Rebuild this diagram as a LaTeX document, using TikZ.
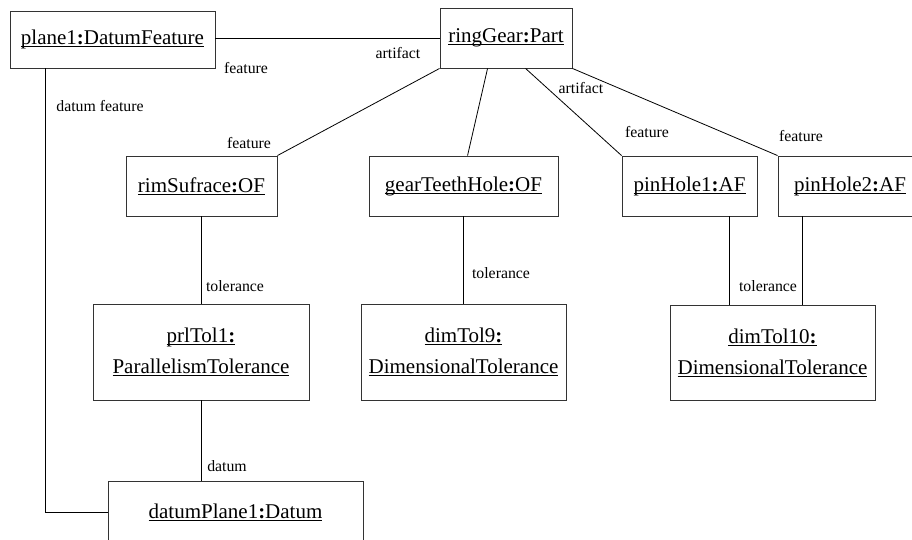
\documentclass[tikz,border=0pt]{standalone}
\usepackage{fontspec}
\setmainfont{Liberation Serif}
\usetikzlibrary{calc}
\newsavebox\ulbox
\newcommand\myul[1]{\sbox\ulbox{#1}\rlap{\rule[-2.4pt]{\wd\ulbox}{0.9pt}}\usebox\ulbox}
\tikzset{
  obj/.style={draw=black!80, line width=0.9pt, rectangle, inner sep=0pt, align=center,
    font=\fontsize{21}{31}\selectfont},
  conn/.style={draw=black, line width=0.8pt},
  lbl/.style={inner sep=0pt, font=\fontsize{15.8}{18}\selectfont}
}
\begin{document}
\begin{tikzpicture}[x=1pt,y=-1pt]
\useasboundingbox (0,0) rectangle (912,539);
\clip (0,0) rectangle (912,539);
% objects
\node[obj, minimum width=205pt, minimum height=57pt] (plane1) at (112.5,39.5) {\myul{plane1\textbf{:}DatumFeature}};
\node[obj, minimum width=132pt, minimum height=60pt] (ring) at (506,38) {\myul{ringGear\textbf{:}Part}};
\node[obj, minimum width=151pt, minimum height=60pt] (rim) at (201.5,186) {\myul{rimSufrace\textbf{:}OF}};
\node[obj, minimum width=189pt, minimum height=60pt] (gear) at (463.5,186) {\myul{gearTeethHole\textbf{:}OF}};
\node[obj, minimum width=135pt, minimum height=60pt] (pin1) at (689.5,186) {\myul{pinHole1\textbf{:}AF}};
\node[obj, minimum width=144pt, minimum height=60pt] (pin2) at (850,186) {\myul{pinHole2\textbf{:}AF}};
\node[obj, minimum width=216pt, minimum height=96pt] (prl) at (201,352) {\myul{prlTol1\textbf{:}}\\\myul{ParallelismTolerance}};
\node[obj, minimum width=205pt, minimum height=96pt] (dim9) at (463.5,352) {\myul{dimTol9\textbf{:}}\\\myul{DimensionalTolerance}};
\node[obj, minimum width=205pt, minimum height=95pt] (dim10) at (772.5,352.5) {\myul{dimTol10\textbf{:}}\\\myul{DimensionalTolerance}};
\node[obj, minimum width=255pt, minimum height=62pt] (dp) at (235.5,512) {\myul{datumPlane1\textbf{:}Datum}};
% connectors
\draw[conn] (ring.west) -- (ring.west -| plane1.east);
\draw[conn] (ring.south west) -- (rim.north east);
\draw[conn] ($(ring.south west)+(48,0)$) -- ($(gear.north west)+(99,0)$);
\draw[conn] ($(ring.south west)+(86,0)$) -- (pin1.north west);
\draw[conn] (ring.south east) -- (pin2.north west);
\draw[conn] (rim.south) -- (rim.south |- prl.north);
\draw[conn] (gear.south) -- (gear.south |- dim9.north);
\draw[conn] ($(pin1.south west)+(108,0)$) coordinate (p1) -- (p1 |- dim10.north);
\draw[conn] ($(pin2.south west)+(25,0)$) coordinate (p2) -- (p2 |- dim10.north);
\draw[conn] (prl.south) -- (prl.south |- dp.north);
\draw[conn] ($(plane1.south west)+(36,0)$) coordinate (q) -- (q |- dp.west) -- (dp.west);
% labels
\node[lbl] (l1) at (398,53) {artifact};
\node[lbl] (l2) at (246,68) {feature};
\node[lbl] (l3) at (100,106) {datum feature};
\node[lbl] (l4) at (249,143) {feature};
\node[lbl] (l5) at (581,88) {artifact};
\node[lbl] (l6) at (647,132) {feature};
\node[lbl] (l7) at (801,136) {feature};
\node[lbl] (l8) at (235,286) {tolerance};
\node[lbl] (l9) at (501,273) {tolerance};
\node[lbl] (l10) at (768,286) {tolerance};
\node[lbl] (l11) at (227,466) {datum};
\end{tikzpicture}
\end{document}
